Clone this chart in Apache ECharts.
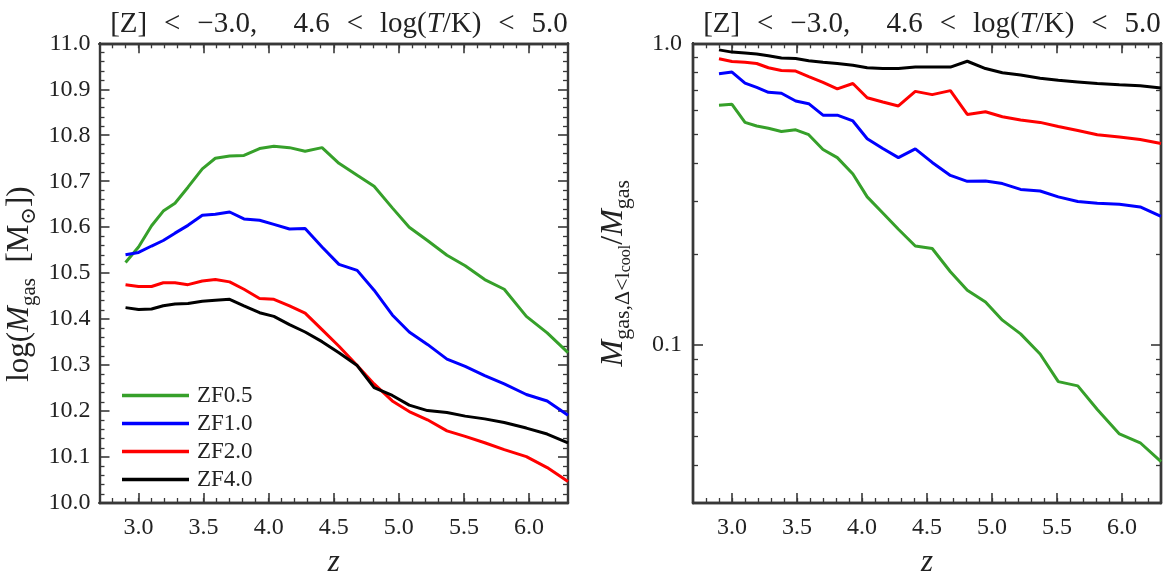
<!DOCTYPE html>
<html>
<head>
<meta charset="utf-8">
<script src="https://cdn.jsdelivr.net/npm/echarts@6/dist/echarts.min.js"></script>
<style>
html,body{margin:0;padding:0;background:#fff;}
#c{width:1172px;height:583px;}
</style>
</head>
<body>
<div id="c"></div>
<script>
// ---- data ----
const redshifts = [2.90, 3.00, 3.10, 3.19, 3.28, 3.38, 3.49, 3.59, 3.70, 3.81, 3.93, 4.04, 4.16, 4.28, 4.41, 4.54, 4.68, 4.81, 4.95, 5.08, 5.22, 5.37, 5.51, 5.66, 5.81, 5.98, 6.14, 6.30];
const seriesNames = ['ZF0.5', 'ZF1.0', 'ZF2.0', 'ZF4.0'];
const massZF05 = [10.523,10.557,10.603,10.635,10.652,10.687,10.727,10.750,10.755,10.756,10.771,10.776,10.773,10.765,10.773,10.739,10.713,10.689,10.642,10.600,10.571,10.539,10.516,10.486,10.465,10.406,10.370,10.327];
const massZF10 = [10.540,10.545,10.559,10.571,10.587,10.604,10.626,10.628,10.633,10.618,10.615,10.606,10.596,10.597,10.557,10.519,10.506,10.463,10.409,10.372,10.345,10.313,10.297,10.277,10.259,10.236,10.222,10.191];
const massZF20 = [10.475,10.471,10.471,10.479,10.479,10.475,10.483,10.486,10.481,10.465,10.445,10.443,10.429,10.413,10.377,10.341,10.299,10.259,10.222,10.199,10.181,10.157,10.145,10.131,10.116,10.101,10.077,10.047];
const massZF40 = [10.425,10.421,10.422,10.429,10.433,10.434,10.439,10.441,10.443,10.429,10.414,10.406,10.388,10.372,10.351,10.327,10.299,10.251,10.234,10.213,10.201,10.197,10.189,10.183,10.175,10.163,10.150,10.131];
const fracZF05 = [0.623,0.628,0.547,0.532,0.523,0.510,0.517,0.498,0.445,0.418,0.369,0.310,0.274,0.242,0.213,0.209,0.175,0.152,0.139,0.121,0.109,0.0935,0.0757,0.0733,0.0612,0.0508,0.0475,0.0411];
const fracZF10 = [0.793,0.803,0.738,0.714,0.688,0.683,0.644,0.631,0.578,0.578,0.553,0.483,0.448,0.418,0.447,0.403,0.365,0.349,0.350,0.343,0.328,0.324,0.310,0.299,0.295,0.293,0.287,0.267];
const fracZF20 = [0.889,0.870,0.865,0.857,0.830,0.813,0.809,0.776,0.742,0.706,0.736,0.660,0.639,0.620,0.693,0.676,0.697,0.581,0.593,0.571,0.557,0.547,0.530,0.514,0.498,0.489,0.480,0.466];
const fracZF40 = [0.951,0.935,0.928,0.921,0.910,0.894,0.890,0.876,0.866,0.857,0.846,0.830,0.825,0.825,0.834,0.834,0.834,0.872,0.825,0.799,0.785,0.766,0.754,0.745,0.736,0.729,0.723,0.711];
const zMajorTicks = [3.0, 3.5, 4.0, 4.5, 5.0, 5.5, 6.0];
const zMinorTicks = [2.8, 2.9, 3.0, 3.1, 3.2, 3.3, 3.4, 3.5, 3.6, 3.7, 3.8, 3.9, 4.0, 4.1, 4.2, 4.3, 4.4, 4.5, 4.6, 4.7, 4.8, 4.9, 5.0, 5.1, 5.2, 5.3, 5.4, 5.5, 5.6, 5.7, 5.8, 5.9, 6.0, 6.1, 6.2];
const fracMajorTicks = [0.1, 1.0];
const fracMinorTicks = [0.04, 0.05, 0.06, 0.07, 0.08, 0.09, 0.2, 0.3, 0.4, 0.5, 0.6, 0.7, 0.8, 0.9];
const REL = '\u2002\u200A<\u2002\u200A';
const titleText = '[Z]' + REL + '−3.0,\u2003 4.6' + REL + 'log({i|T}/K)' + REL + '5.0';

// ---- style ----
const FONT = "'Liberation Serif', 'DejaVu Serif', serif";
const FRAME = '#383838';
const TXT = '#222222';
const COLORS = ['#36a02a', '#0000ff', '#ff0000', '#000000'];

const chart = echarts.init(document.getElementById('c'), null, {renderer: 'canvas'});

const lineStyleAxis = {show: true, lineStyle: {color: FRAME, width: 2.4}};
const MAJ = 10, MIN = 5;
function xAxesFor(g) {
  const base = {type: 'value', gridIndex: g, min: 2.7, max: 6.3, splitLine: {show: false}, axisLine: lineStyleAxis};
  return [
    Object.assign({}, base, {position: 'bottom',
      axisTick: {show: true, inside: true, length: MAJ, customValues: zMajorTicks, lineStyle: {color: FRAME, width: 1.6}},
      axisLabel: {show: true, customValues: zMajorTicks, formatter: v => v.toFixed(1), color: TXT, fontFamily: FONT, fontSize: 24, margin: 13},
      name: 'z', nameLocation: 'middle', nameGap: 44,
      nameTextStyle: {fontFamily: FONT, fontStyle: 'italic', fontSize: 31, color: TXT}}),
    Object.assign({}, base, {position: 'bottom',
      axisTick: {show: true, inside: true, length: MIN, customValues: zMinorTicks, lineStyle: {color: FRAME, width: 1.3}},
      axisLabel: {show: false}}),
    Object.assign({}, base, {position: 'top',
      axisTick: {show: true, inside: true, length: MAJ, customValues: zMajorTicks, lineStyle: {color: FRAME, width: 1.6}},
      axisLabel: {show: false}}),
    Object.assign({}, base, {position: 'top',
      axisTick: {show: true, inside: true, length: MIN, customValues: zMinorTicks, lineStyle: {color: FRAME, width: 1.3}},
      axisLabel: {show: false}})
  ];
}

function richFor(main, sub, subsub) {
  return {
    n: {fontFamily: FONT, fontSize: main, color: TXT, lineHeight: main + 8},
    i: {fontFamily: FONT, fontSize: main, fontStyle: 'italic', color: TXT, lineHeight: main + 8},
    s: {fontFamily: FONT, fontSize: sub, color: TXT, lineHeight: sub + 1, verticalAlign: 'bottom'},
    ss: {fontFamily: FONT, fontSize: subsub, color: TXT, lineHeight: subsub - 3, verticalAlign: 'bottom'}
  };
}

const leftYName = '{n|log(}{i|M}{s|gas}{n|  [M}{s|⊙}{n|])}';
const rightYName = '{i|M}{s|gas,Δ<l}{ss|cool}{n|/}{i|M}{s|gas}';

const yAxes = [
  {type: 'value', gridIndex: 0, position: 'left', min: 10, max: 11, interval: 0.1,
   splitLine: {show: false}, axisLine: lineStyleAxis,
   axisTick: {show: true, inside: true, length: MAJ, lineStyle: {color: FRAME, width: 1.6}},
   minorTick: {show: true, splitNumber: 5, length: MIN, lineStyle: {color: FRAME, width: 1.3}},
   axisLabel: {formatter: v => v.toFixed(1), color: TXT, fontFamily: FONT, fontSize: 24, margin: 9},
   name: leftYName, nameLocation: 'middle', nameGap: 60, nameRotate: 90,
   nameTextStyle: {rich: richFor(31, 21, 15), padding: [0, 22, 0, 0]}},
  {type: 'value', gridIndex: 0, position: 'right', min: 10, max: 11, interval: 0.1,
   splitLine: {show: false}, axisLine: lineStyleAxis,
   axisTick: {show: true, inside: true, length: MAJ, lineStyle: {color: FRAME, width: 1.6}},
   minorTick: {show: true, splitNumber: 5, length: MIN, lineStyle: {color: FRAME, width: 1.3}},
   axisLabel: {show: false}},
  {type: 'log', gridIndex: 1, position: 'left', min: 0.03, max: 1, logBase: 10,
   splitLine: {show: false}, axisLine: lineStyleAxis,
   axisTick: {show: true, inside: true, length: MAJ, customValues: fracMajorTicks, lineStyle: {color: FRAME, width: 1.6}},
   axisLabel: {customValues: fracMajorTicks, formatter: v => v.toFixed(1), color: TXT, fontFamily: FONT, fontSize: 24, margin: 11},
   name: rightYName, nameLocation: 'middle', nameGap: 59, nameRotate: 90,
   nameTextStyle: {rich: richFor(32, 22, 16)}},
  {type: 'log', gridIndex: 1, position: 'left', min: 0.03, max: 1, logBase: 10,
   splitLine: {show: false}, axisLine: lineStyleAxis,
   axisTick: {show: true, inside: true, length: MIN, customValues: fracMinorTicks, lineStyle: {color: FRAME, width: 1.3}},
   axisLabel: {show: false}},
  {type: 'log', gridIndex: 1, position: 'right', min: 0.03, max: 1, logBase: 10,
   splitLine: {show: false}, axisLine: lineStyleAxis,
   axisTick: {show: true, inside: true, length: MAJ, customValues: fracMajorTicks, lineStyle: {color: FRAME, width: 1.6}},
   axisLabel: {show: false}},
  {type: 'log', gridIndex: 1, position: 'right', min: 0.03, max: 1, logBase: 10,
   splitLine: {show: false}, axisLine: lineStyleAxis,
   axisTick: {show: true, inside: true, length: MIN, customValues: fracMinorTicks, lineStyle: {color: FRAME, width: 1.3}},
   axisLabel: {show: false}}
];

const massSets = [massZF05, massZF10, massZF20, massZF40];
const fracSets = [fracZF05, fracZF10, fracZF20, fracZF40];
const series = [];
seriesNames.forEach((nm, k) => {
  series.push({name: nm, type: 'line', xAxisIndex: 0, yAxisIndex: 0, symbol: 'none',
    lineStyle: {color: COLORS[k], width: 3}, itemStyle: {color: COLORS[k]},
    data: redshifts.map((z, i) => [z, massSets[k][i]])});
});
seriesNames.forEach((nm, k) => {
  series.push({name: nm, type: 'line', xAxisIndex: 4, yAxisIndex: 2, symbol: 'none',
    lineStyle: {color: COLORS[k], width: 3}, itemStyle: {color: COLORS[k]},
    data: redshifts.map((z, i) => [z, fracSets[k][i]])});
});

const titleStyle = {fontFamily: FONT, fontSize: 29, fontWeight: 'normal', color: TXT,
  rich: {i: {fontFamily: FONT, fontSize: 29, fontStyle: 'italic', color: TXT}}};

chart.setOption({
  animation: false,
  backgroundColor: '#ffffff',
  title: [
    {text: titleText, left: 334, top: 5, textAlign: 'center', textStyle: titleStyle},
    {text: titleText, left: 927, top: 5, textAlign: 'center', textStyle: titleStyle}
  ],
  grid: [
    {left: 99.5, top: 43.3, width: 468.5, height: 468},
    {left: 693, top: 43.3, width: 468, height: 468}
  ],
  legend: {
    data: seriesNames, orient: 'vertical', left: 122, top: 384, padding: 0,
    icon: 'rect', itemWidth: 67, itemHeight: 3.5, itemGap: 5,
    textStyle: {fontFamily: FONT, fontSize: 23, color: TXT, padding: [0, 0, 0, 3]}
  },
  xAxis: xAxesFor(0).concat(xAxesFor(1)),
  yAxis: yAxes,
  series: series
});
</script>
</body>
</html>
